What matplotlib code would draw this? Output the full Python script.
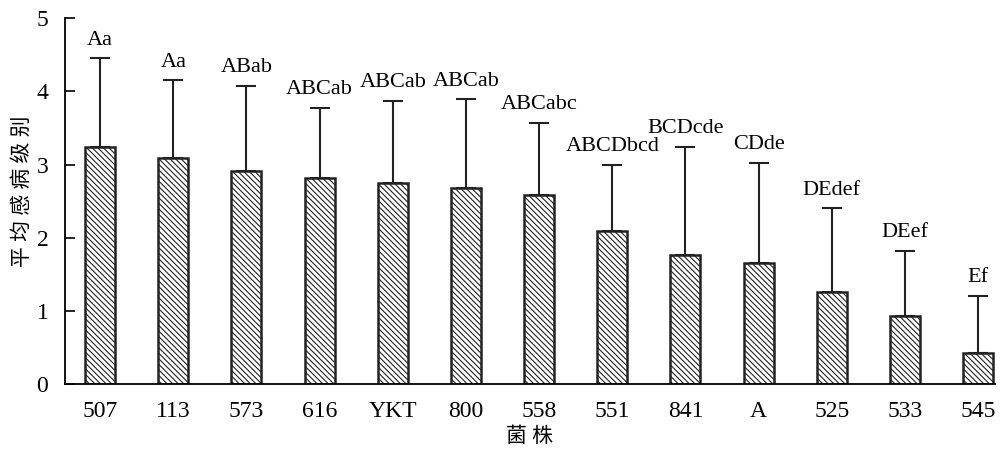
import numpy as np
import matplotlib.pyplot as plt

plt.rcParams['font.family'] = ['Liberation Serif', 'Noto Sans CJK SC']
plt.rcParams['hatch.linewidth'] = 0.8

strains = ['507', '113', '573', '616', 'YKT', '800', '558', '551', '841', 'A', '525', '533', '545']
means = [3.24, 3.09, 2.91, 2.81, 2.75, 2.68, 2.58, 2.09, 1.76, 1.65, 1.26, 0.93, 0.42]
upper = [4.45, 4.15, 4.07, 3.77, 3.87, 3.89, 3.57, 2.99, 3.24, 3.02, 2.40, 1.82, 1.20]
letters = ['Aa', 'Aa', 'ABab', 'ABCab', 'ABCab', 'ABCab', 'ABCabc', 'ABCDbcd',
           'BCDcde', 'CDde', 'DEdef', 'DEef', 'Ef']

err = np.array(upper) - np.array(means)
x = np.arange(len(strains))

fig = plt.figure(figsize=(10, 4.55), dpi=100)
ax = fig.add_axes([0.065, 0.156, 0.93, 0.804])

ax.bar(x, means, width=0.41, color='white', edgecolor='#222222', linewidth=1.8,
       hatch='\\\\\\\\\\\\', zorder=2)
ax.errorbar(x, means, yerr=[np.zeros_like(err), err], fmt='none', ecolor='#222222',
            elinewidth=1.5, capsize=7, capthick=1.5, zorder=1)

for xi, top, lab in zip(x, upper, letters):
    ax.text(xi, top + 0.12, lab, ha='center', va='bottom', fontsize=16)

ax.set_xlim(-0.48, 12.23)
ax.set_ylim(0, 5)
ax.set_yticks(range(6))
ax.set_xticks(x)
ax.set_xticklabels(strains, fontsize=17)
ax.tick_params(axis='y', direction='in', length=7, width=1.2, labelsize=17, pad=12)
ax.tick_params(axis='x', length=0, pad=12)
for s in ['top', 'right']:
    ax.spines[s].set_visible(False)
ax.spines['left'].set_linewidth(1.3)
ax.spines['bottom'].set_linewidth(1.3)

ax.set_xlabel('菌 株', fontsize=15, labelpad=4, fontweight='light')
ax.set_ylabel('平 均 感 病 级 别', fontsize=15, fontweight='light')
ax.yaxis.set_label_coords(-0.035, 0.527)

fig.savefig('out.png', dpi=100)
